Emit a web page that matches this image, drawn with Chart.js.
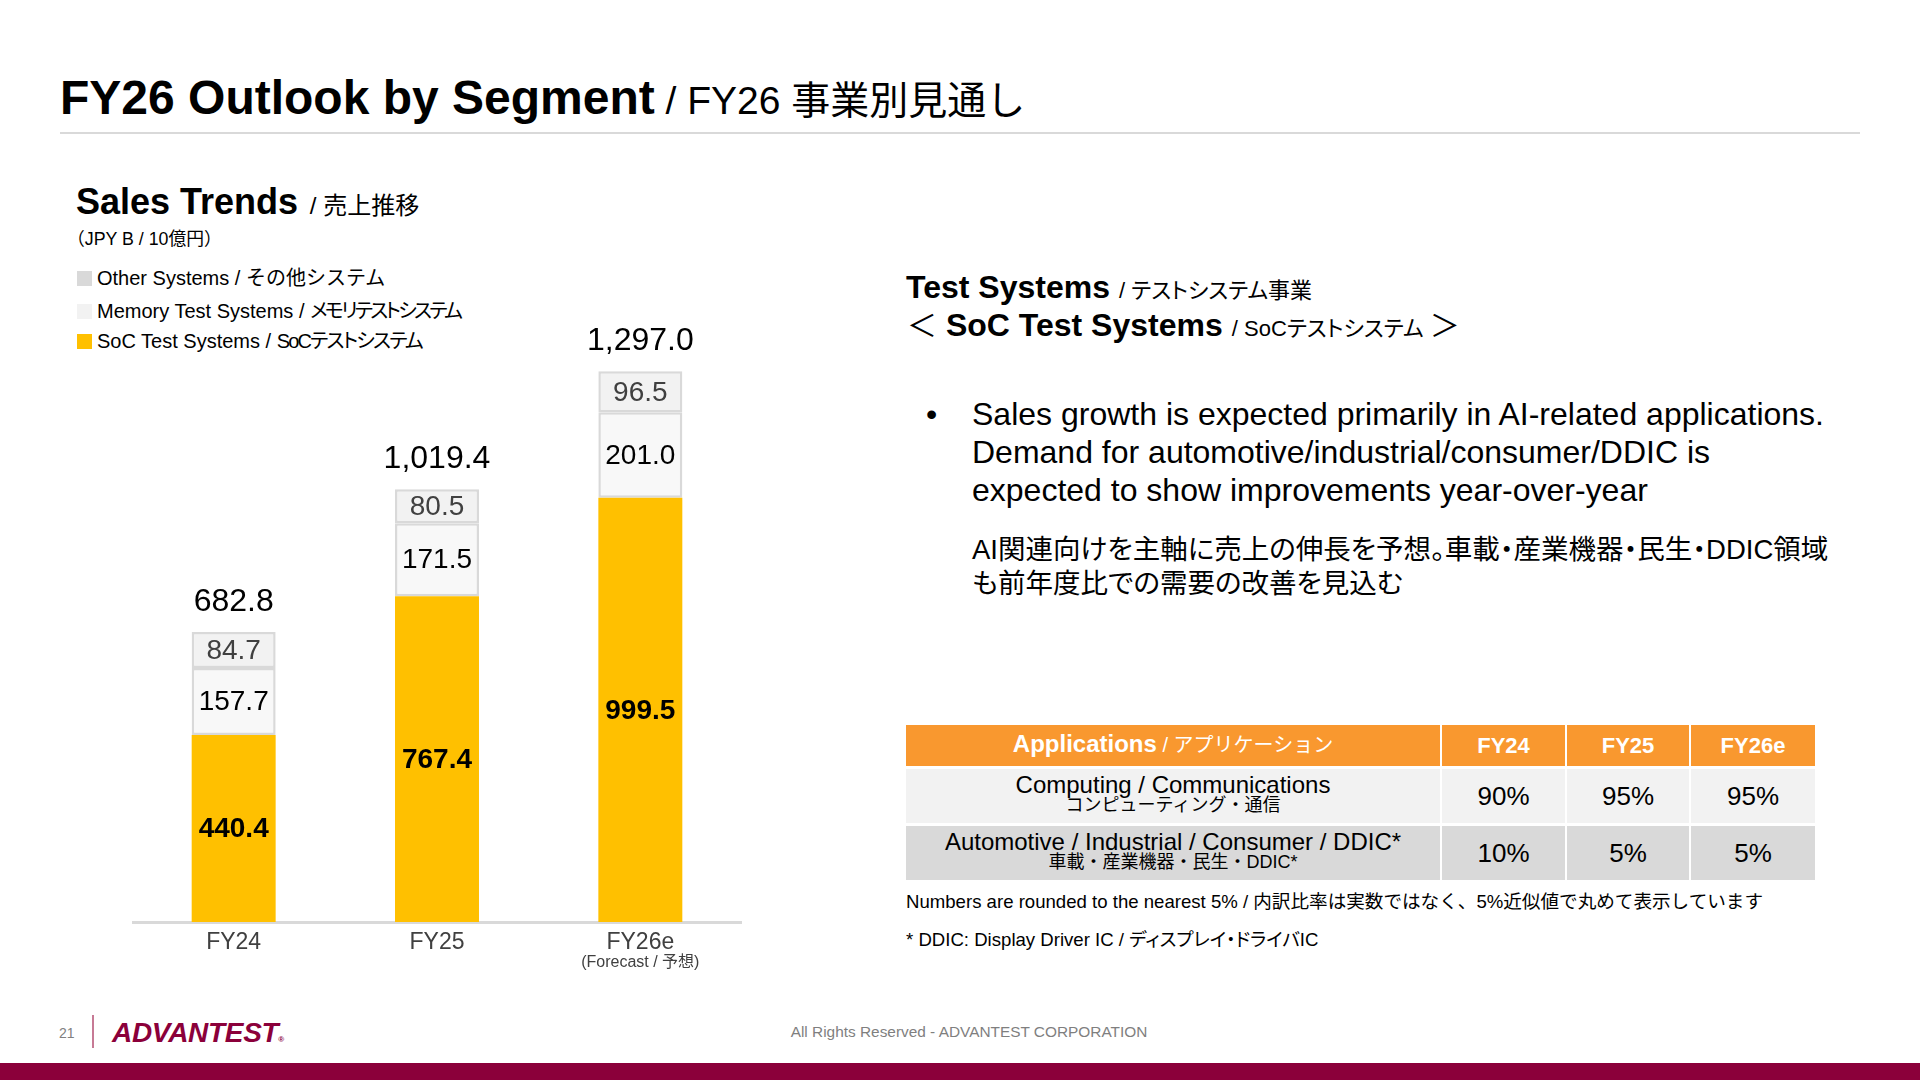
<!DOCTYPE html>
<html>
<head>
<meta charset="utf-8">
<script src="https://cdn.jsdelivr.net/npm/chart.js@4.4.1/dist/chart.umd.min.js"></script>
<style>
  html, body { margin:0; padding:0; }
  body { width:1920px; height:1080px; position:relative; overflow:hidden; background:#fff;
         font-family:"Liberation Sans", Arial, "Noto Sans CJK JP", sans-serif; color:#000; }
  .abs { position:absolute; white-space:nowrap; }
  .b { font-weight:bold; }
  .palt { font-feature-settings:"palt" 1; }
  #grid { position:absolute; left:906px; top:725px; display:grid;
          grid-template-columns:534px 123px 122px 124px; grid-template-rows:41px 54px 54px;
          column-gap:2px; row-gap:3px; }
  #grid > div { display:flex; flex-direction:column; align-items:center; justify-content:center; text-align:center; }
  .hd { background:#F9982F; color:#fff; }
  .r1 { background:#F2F2F2; }
  .r2 { background:#D9D9D9; }
</style>
</head>
<body>
<!-- Title -->
<div class="abs" style="left:60px; top:70px; line-height:56px;">
  <span class="b" style="font-size:48px;">FY26 Outlook by Segment</span><span style="font-size:39px;"> / FY26 事業別見通し</span>
</div>
<div class="abs" style="left:60px; top:132px; width:1800px; height:2px; background:#D9D9D9;"></div>

<!-- Left header -->
<div class="abs" style="left:76px; top:182px; line-height:40px;">
  <span class="b" style="font-size:36px;">Sales Trends</span><span style="font-size:24px; padding-left:5px;"> / 売上推移</span>
</div>
<div class="abs" style="left:67px; top:228px; line-height:22px; font-size:17.8px;">（JPY B / 10億円）</div>

<!-- Legend -->
<div id="legend"></div>

<!-- Chart -->
<canvas id="chart" width="610" height="700" style="position:absolute; left:132px; top:300px;"></canvas>

<!-- Right text -->
<div class="abs" style="left:906px; top:268px; line-height:38px;">
  <span class="b" style="font-size:32px;">Test Systems</span><span class="palt" style="font-size:22px; padding-left:3px;"> / テストシステム事業</span>
</div>
<div class="abs" style="left:907px; top:306px; line-height:38px;">
  <span style="font-size:30px;">＜</span><span class="b" style="font-size:32px;"> SoC Test Systems</span><span class="palt" style="font-size:22px; padding-left:3px;"> / SoCテストシステム </span><span style="font-size:30px;">＞</span>
</div>
<div class="abs" style="left:926px; top:395px; line-height:38px; font-size:32px;">•</div>
<div class="abs" style="left:972px; top:395px; line-height:38px; font-size:32px;">
  Sales growth is expected primarily in AI-related applications.<br>
  Demand for automotive/industrial/consumer/DDIC is<br>
  expected to show improvements year-over-year
</div>
<div class="abs palt" style="left:972px; top:533px; line-height:34px; font-size:27.5px;">
  AI関連向けを主軸に売上の伸長を予想。車載・産業機器・民生・DDIC領域<br>
  も前年度比での需要の改善を見込む
</div>

<!-- Table -->
<div id="grid"></div>
<div class="abs" style="left:906px; top:890px; line-height:24px; font-size:18.6px;">Numbers are rounded to the nearest 5% / 内訳比率は実数ではなく、5%近似値で丸めて表示しています</div>
<div class="abs palt" style="left:906px; top:928px; line-height:24px; font-size:18.6px;">* DDIC: Display Driver IC / ディスプレイ・ドライバIC</div>

<!-- Footer -->
<div class="abs" style="left:59px; top:1024px; line-height:18px; font-size:14px; color:#808080;">21</div>
<div class="abs" style="left:92px; top:1015px; width:2px; height:33px; background:#C77A95;"></div>
<div class="abs b" style="left:112px; top:1017px; line-height:32px; font-size:28px; font-style:italic; color:#8B003A; letter-spacing:-0.3px;">ADVANTEST<span style="font-size:8px; font-style:normal;">®</span></div>
<div class="abs" style="left:769px; width:400px; text-align:center; top:1023px; line-height:18px; font-size:15.4px; color:#7F7F7F;">All Rights Reserved - ADVANTEST CORPORATION</div>
<div class="abs" style="left:0; top:1063px; width:1920px; height:17px; background:#8B003A;"></div>

<script>
// ---- data ----
const categories = ['FY24', 'FY25', 'FY26e'];
const subLabels = ['', '', '(Forecast / 予想)'];
const socValues = [440.4, 767.4, 999.5];
const memoryValues = [157.7, 171.5, 201.0];
const otherValues = [84.7, 80.5, 96.5];
const totals = [682.8, 1019.4, 1297.0];

const legendEn = ['Other Systems', 'Memory Test Systems', 'SoC Test Systems'];
const legendJp = ['その他システム', 'メモリテストシステム', 'SoCテストシステム'];
const legendColors = ['#D9D9D9', '#F2F2F2', '#FFC000'];
const legendJpSpacing = ['0px', '-2.7px', '-1.8px'];

const tableHeader = ['Applications', 'FY24', 'FY25', 'FY26e'];
const tableHeaderJp = ' / アプリケーション';
const appNamesEn = ['Computing / Communications', 'Automotive / Industrial / Consumer / DDIC*'];
const appNamesJp = ['コンピューティング・通信', '車載・産業機器・民生・DDIC*'];
const appShares = [['90%', '95%', '95%'], ['10%', '5%', '5%']];

// ---- legend ----
const legendTops = [278, 311, 341];
const lg = document.getElementById('legend');
legendEn.forEach((t, i) => {
  const sq = document.createElement('div');
  sq.className = 'abs';
  sq.style.cssText = `left:77px; top:${legendTops[i]-7}px; width:15px; height:15px; background:${legendColors[i]};`;
  lg.appendChild(sq);
  const tx = document.createElement('div');
  tx.className = 'abs';
  tx.style.cssText = `left:97px; top:${legendTops[i]-12}px; line-height:24px; font-size:20px;`;
  const jpStyle = i === 0 ? '' : `font-feature-settings:"palt" 1; letter-spacing:${legendJpSpacing[i]};`;
  tx.innerHTML = `${t} / <span style='${jpStyle}'>${legendJp[i]}</span>`;
  lg.appendChild(tx);
});

// ---- table ----
const grid = document.getElementById('grid');
function cell(cls, html) { const d = document.createElement('div'); d.className = cls; d.innerHTML = html; grid.appendChild(d); }
cell('hd', `<div style="line-height:26px;"><span class="b" style="font-size:24px;">${tableHeader[0]}</span><span style="font-size:20px;">${tableHeaderJp}</span></div>`);
for (let i = 1; i < tableHeader.length; i++) cell('hd', `<span class="b" style="font-size:22px; line-height:26px;">${tableHeader[i]}</span>`);
appNamesEn.forEach((n, r) => {
  const cls = r === 0 ? 'r1' : 'r2';
  cell(cls, `<div style="font-size:24px; line-height:22px; margin-top:-4px;">${n}</div><div style="font-size:18px; line-height:19px;">${appNamesJp[r]}</div>`);
  appShares[r].forEach(v => cell(cls, `<span style="font-size:26px; line-height:30px;">${v}</span>`));
});

// ---- chart ----
const FONT = '"Liberation Sans", Arial, "Noto Sans CJK JP", sans-serif';
Chart.defaults.font.family = FONT;

const fmt = v => v.toLocaleString('en-US', { minimumFractionDigits: 1, maximumFractionDigits: 1 });

const labelPlugin = {
  id: 'barLabels',
  afterDatasetsDraw(chart) {
    const ctx = chart.ctx;
    ctx.save();
    ctx.textAlign = 'center';
    ctx.textBaseline = 'middle';
    const styles = [
      { font: 'bold 28px ' + FONT, color: '#000000' },
      { font: '28px ' + FONT, color: '#000000' },
      { font: '28px ' + FONT, color: '#404040' }
    ];
    chart.data.datasets.forEach((ds, di) => {
      const meta = chart.getDatasetMeta(di);
      meta.data.forEach((bar, i) => {
        ctx.font = styles[di].font;
        ctx.fillStyle = styles[di].color;
        ctx.fillText(fmt(ds.data[i]), bar.x, (bar.y + bar.base) / 2 + 1);
      });
    });
    const topMeta = chart.getDatasetMeta(chart.data.datasets.length - 1);
    ctx.font = '32px ' + FONT;
    ctx.fillStyle = '#000000';
    topMeta.data.forEach((bar, i) => {
      ctx.fillText(fmt(totals[i]), bar.x, bar.y - 30);
    });
    const xs = chart.scales.x;
    ctx.font = '16px ' + FONT;
    ctx.fillStyle = '#404040';
    subLabels.forEach((s, i) => {
      if (s) ctx.fillText(s, xs.getPixelForTick(i), chart.chartArea.bottom + 41);
    });
    ctx.restore();
  }
};

new Chart(document.getElementById('chart'), {
  type: 'bar',
  data: {
    labels: categories,
    datasets: [
      { label: 'SoC Test Systems', data: socValues, backgroundColor: '#FFC000', borderWidth: 0 },
      { label: 'Memory Test Systems', data: memoryValues, backgroundColor: '#F8F8F8', borderColor: '#D9D9D9', borderWidth: 2.5, borderSkipped: false },
      { label: 'Other Systems', data: otherValues, backgroundColor: '#F2F2F2', borderColor: '#D9D9D9', borderWidth: 2.5, borderSkipped: false }
    ]
  },
  options: {
    responsive: false,
    animation: false,
    devicePixelRatio: 1,
    layout: { padding: 0 },
    categoryPercentage: 1,
    barPercentage: 0.413,
    plugins: { legend: { display: false }, tooltip: { enabled: false } },
    scales: {
      x: {
        stacked: true,
        grid: { display: false, drawTicks: false },
        border: { display: true, color: '#D9D9D9', width: 3 },
        ticks: { color: '#404040', font: { size: 23 }, padding: 7 },
        afterFit(scale) { scale.height = 78; }
      },
      y: { stacked: true, display: false, min: 0, max: 1465 }
    }
  },
  plugins: [labelPlugin]
});
</script>
</body>
</html>
